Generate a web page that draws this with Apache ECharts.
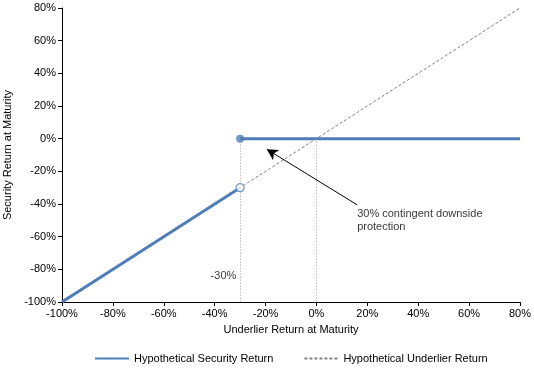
<!DOCTYPE html>
<html><head><meta charset="utf-8">
<script src="https://cdn.jsdelivr.net/npm/echarts@6/dist/echarts.min.js"></script>
<style>html,body{margin:0;padding:0;background:#fff}#c{width:534px;height:369px}</style>
</head><body><div id="c"></div>
<script>
const securityLow = [[-100, -100], [-30, -30]];
const securityHigh = [[-30, 0], [80, 0]];
const underlier = [[-100, -100], [80, 80]];
const openPoint = [[-30, -30]];
const filledPoint = [[-30, 0]];
const dropLines = [[[-30, 0], [-30, -100]], [[0, 0], [0, -100]]];
const arrowLine = [[16, -40.5], [-19.5, -6.5]];
const noteText = [[16, -42, '30% contingent downside\nprotection']];
const barrierText = [[-31.5, -84, '-30%']];
const axisTicks = [-100, -80, -60, -40, -20, 0, 20, 40, 60, 80];

const FONT = 'Liberation Sans, Arial, sans-serif';
const BLUE = '#4F7DB8';
const chart = echarts.init(document.getElementById('c'), null, {renderer: 'canvas'});
const axisCommon = {
  type: 'value', min: axisTicks[0], max: axisTicks[axisTicks.length - 1], interval: 20,
  splitLine: {show: false},
  axisLine: {show: true, onZero: false, lineStyle: {color: '#000', width: 1}},
  axisTick: {show: true, length: 4, lineStyle: {color: '#000'}},
  axisLabel: {formatter: v => v + '%', color: '#000', fontFamily: FONT, fontSize: 11, margin: 6},
  nameLocation: 'middle',
  nameTextStyle: {color: '#000', fontFamily: FONT, fontSize: 11}
};
chart.setOption({
  animation: false,
  grid: {left: 62, right: 14, top: 8, bottom: 67, containLabel: false, outerBoundsMode: 'none'},
  xAxis: Object.assign({}, axisCommon, {name: 'Underlier Return at Maturity', nameGap: 22}),
  yAxis: Object.assign({}, axisCommon, {name: 'Security Return at Maturity', nameGap: 41}),
  legend: {
    top: 353, left: 94, padding: 0, itemWidth: 34, itemHeight: 14, itemGap: 30,
    itemStyle: {opacity: 0},
    textStyle: {color: '#000', fontFamily: FONT, fontSize: 11},
    data: ['Hypothetical Security Return', 'Hypothetical Underlier Return']
  },
  series: [
    {name: 'Hypothetical Underlier Return', type: 'line', data: underlier, symbol: 'none', z: 1,
     lineStyle: {color: '#808080', width: 1, type: [3, 2]}, itemStyle: {color: '#808080'},
     markLine: {silent: true, symbol: 'none', label: {show: false},
       lineStyle: {color: '#999', width: 1, type: [1, 2]},
       data: dropLines.map(l => [{coord: l[0]}, {coord: l[1]}])}},
    {name: 'Hypothetical Security Return', type: 'line', data: securityLow, symbol: 'none', z: 3,
     lineStyle: {color: BLUE, width: 3}, itemStyle: {color: BLUE}},
    {name: 'Hypothetical Security Return', type: 'line', data: securityHigh, symbol: 'none', z: 3,
     lineStyle: {color: BLUE, width: 3}, itemStyle: {color: BLUE}},
    {name: 'open', type: 'scatter', data: openPoint, symbol: 'circle', symbolSize: 8, z: 5,
     itemStyle: {color: '#fff', borderColor: BLUE, borderWidth: 1.2}},
    {name: 'filled', type: 'scatter', data: filledPoint, symbol: 'circle', symbolSize: 8, z: 5,
     itemStyle: {color: BLUE}},
    {name: 'arrow', type: 'line', data: [], z: 6,
     markLine: {silent: true, symbol: ['none', 'arrow'], symbolSize: [9, 11], label: {show: false},
       lineStyle: {color: '#000', width: 1, type: 'solid'},
       data: [[{coord: arrowLine[0]}, {coord: arrowLine[1]}]]}},
    {name: 'note', type: 'scatter', data: noteText, symbolSize: 0, z: 6,
     label: {show: true, position: 'right', distance: 0, formatter: p => p.data[2],
       color: '#000', fontFamily: FONT, fontSize: 11, lineHeight: 13, align: 'left', verticalAlign: 'top'}},
    {name: 'barrier', type: 'scatter', data: barrierText, symbolSize: 0, z: 6,
     label: {show: true, position: 'left', distance: 0, formatter: p => p.data[2],
       color: '#000', fontFamily: FONT, fontSize: 11}}
  ]
});
</script></body></html>
